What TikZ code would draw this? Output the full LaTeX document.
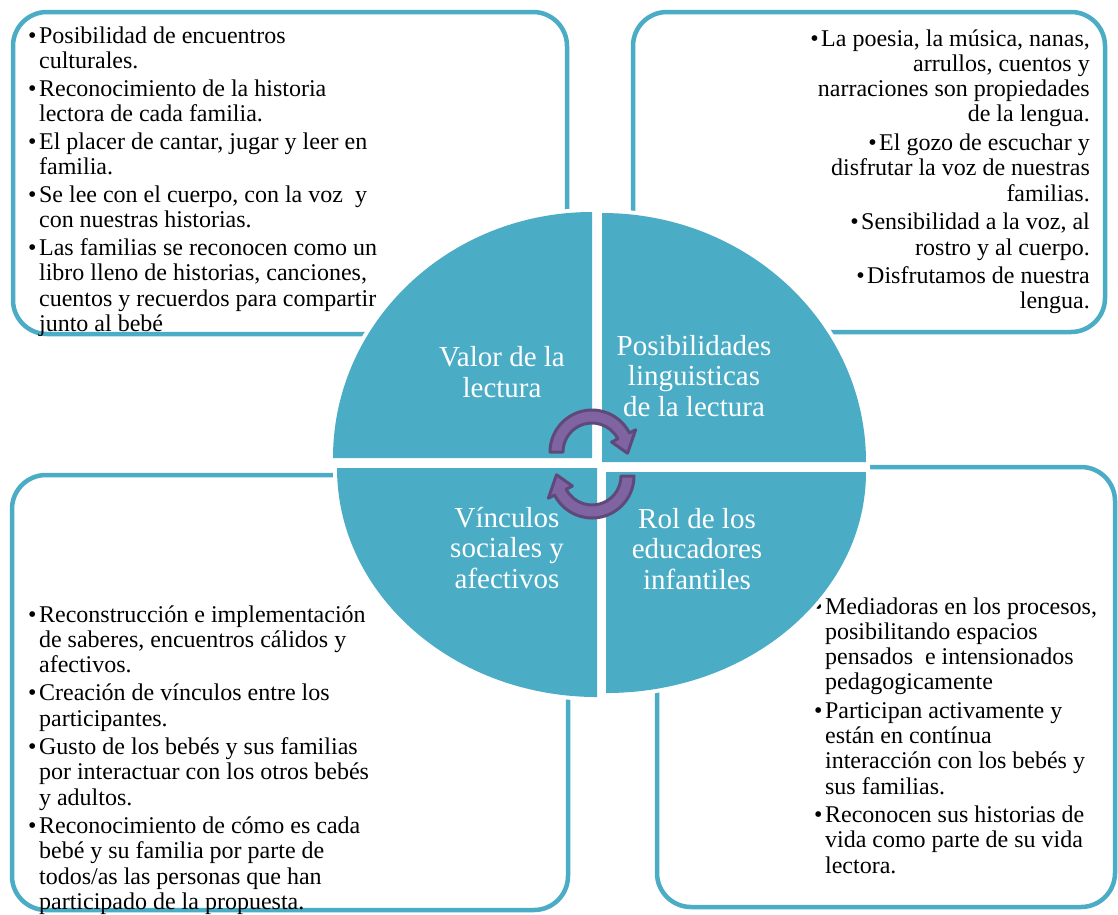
\documentclass[tikz,border=0pt]{standalone}
\usepackage{fontspec}
\setmainfont{Liberation Serif}
\definecolor{boxblue}{HTML}{4BACC6}
\definecolor{quadblue}{HTML}{4BACC6}
\definecolor{arrowfill}{HTML}{8064A2}
\definecolor{arrowline}{HTML}{5F497A}
\begin{document}
\begin{tikzpicture}[x=1pt,y=-1pt,
  panel/.style={draw=boxblue, line width=4.5pt, rounded corners=34pt},
  itemtext/.style={inner sep=0pt, font=\fontsize{24}{25.3}\selectfont},
  quadfill/.style={fill=quadblue, preaction={draw=white, fill=white, line width=8pt}},
  quadlabel/.style={text=white, align=center, inner sep=0pt, font=\fontsize{29}{30.5}\selectfont},
  cyclearrow/.style={fill=arrowfill, draw=arrowline, line width=3pt, line join=round}
]
\useasboundingbox[fill=white] (0,0) rectangle (1118,914);

% outer panels
\draw[panel] (13,12) rectangle (567,334);
\draw[panel] (633,12) rectangle (1105,332);
\draw[panel] (12,475) rectangle (568,910);
\draw[panel] (657,467) rectangle (1115,907);

% panel texts
\node[itemtext, anchor=base west] (tltext) at (28,43) {\begin{tabular}[t]{@{}l@{\hspace{2.5pt}}l@{}}
\textbullet & Posibilidad de encuentros\\
 & culturales.\\[2.5pt]
\textbullet & Reconocimiento de la historia\\
 & lectora de cada familia.\\[2.5pt]
\textbullet & El placer de cantar, jugar y leer en\\
 & familia.\\[2.5pt]
\textbullet & Se lee con el cuerpo, con la voz~ y\\
 & con nuestras historias.\\[2.5pt]
\textbullet & Las familias se reconocen como un\\
 & libro lleno de historias, canciones,\\
 & cuentos y recuerdos para compartir\\
 & junto al bebé
\end{tabular}};

\node[itemtext, anchor=base east] (trtext) at (1090,46) {\begin{tabular}[t]{@{}r@{}}
\textbullet\hspace{2.5pt}La poesia, la música, nanas,\\
arrullos, cuentos y\\
narraciones son propiedades\\
de la lengua.\\[3.3pt]
\textbullet\hspace{2.5pt}El gozo de escuchar y\\
disfrutar la voz de nuestras\\
familias.\\[3.3pt]
\textbullet\hspace{2.5pt}Sensibilidad a la voz, al\\
rostro y al cuerpo.\\[3.3pt]
\textbullet\hspace{2.5pt}Disfrutamos de nuestra\\
lengua.
\end{tabular}};

\node[itemtext, anchor=base west] (bltext) at (28,622) {\begin{tabular}[t]{@{}l@{\hspace{2.5pt}}l@{}}
\textbullet & Reconstrucción e implementación\\
 & de saberes, encuentros cálidos y\\
 & afectivos.\\[3pt]
\textbullet & Creación de vínculos entre los\\
 & participantes.\\[3pt]
\textbullet & Gusto de los bebés y sus familias\\
 & por interactuar con los otros bebés\\
 & y adultos.\\[3pt]
\textbullet & Reconocimiento de cómo es cada\\
 & bebé y su familia por parte de\\
 & todos/as las personas que han\\
 & participado de la propuesta.
\end{tabular}};

\node[itemtext, anchor=base west] (brtext) at (814,614) {\begin{tabular}[t]{@{}l@{\hspace{2.5pt}}l@{}}
\textbullet & Mediadoras en los procesos,\\
 & posibilitando espacios\\
 & pensados~ e intensionados\\
 & pedagogicamente\\[3pt]
\textbullet & Participan activamente y\\
 & están en contínua\\
 & interacción con los bebés y\\
 & sus familias.\\[3pt]
\textbullet & Reconocen sus historias de\\
 & vida como parte de su vida\\
 & lectora.
\end{tabular}};

% white gap strip behind the circle
\fill[white] (333,455) rectangle (870,472);

% central quadrants
\path[quadfill] (592,458) -- (333,458) arc[start angle=180, end angle=270, x radius=259, y radius=246] -- cycle;
\path[quadfill] (602,462) -- (602,213) arc[start angle=270, end angle=360, x radius=264, y radius=249] -- cycle;
\path[quadfill] (597,468) -- (597,697) arc[start angle=90, end angle=180, x radius=260, y radius=229] -- cycle;
\path[quadfill] (606,472) -- (866,472) arc[start angle=0, end angle=90, x radius=260, y radius=221] -- cycle;

\node[quadlabel] (valor) at (502,372) {Valor de la\\lectura};
\node[quadlabel] (posib) at (694,376) {Posibilidades\\linguisticas\\de la lectura};
\node[quadlabel] (vinc) at (507,548) {Vínculos\\sociales y\\afectivos};
\node[quadlabel] (rol) at (697,549) {Rol de los\\educadores\\infantiles};

% cycle arrows
\begin{scope}[shift={(592,452)}]
\path[cyclearrow] (180:42) arc[start angle=180, end angle=333, radius=42] -- (333:49) -- (2:35.5) -- (333:22) -- (333:29) arc[start angle=333, end angle=180, radius=29] -- cycle;
\end{scope}
\begin{scope}[shift={(592,476)}]
\path[cyclearrow] (0:42) arc[start angle=0, end angle=153, radius=42] -- (153:49) -- (182:35.5) -- (153:22) -- (153:29) arc[start angle=153, end angle=0, radius=29] -- cycle;
\end{scope}
\end{tikzpicture}
\end{document}
